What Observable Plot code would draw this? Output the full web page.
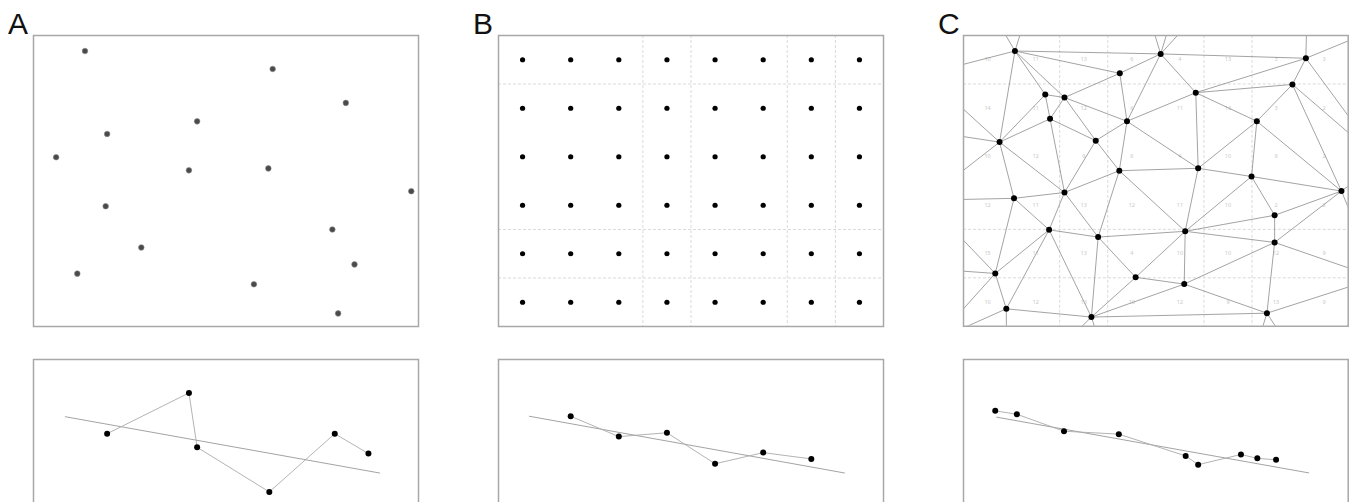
<!DOCTYPE html>
<html>
<head>
<meta charset="utf-8">
<script src="https://cdn.jsdelivr.net/npm/d3@7"></script>
<script src="https://cdn.jsdelivr.net/npm/@observablehq/plot@0.6"></script>
<style>
  html, body { margin: 0; padding: 0; background: #fff; }
  body { width: 1350px; height: 502px; overflow: hidden; position: relative; font-family: "Liberation Sans", Arial, sans-serif; }
  .panel { position: absolute; }
  .lab { position: absolute; font-size: 30px; line-height: 30px; color: #111; }
</style>
</head>
<body>
<script>
// ---------- Data ----------
// Panel A: randomly placed sample locations (grid units, y measured from top)
const aX = [1.07, 4.97, 6.49, 3.40, 1.53, 0.47, 3.23, 4.88, 7.85, 1.50, 6.21, 2.24, 6.67, 0.91, 4.58, 6.33];
const aY = [0.32, 0.69, 1.39, 1.77, 2.03, 2.51, 2.78, 2.74, 3.21, 3.52, 4.00, 4.37, 4.72, 4.91, 5.13, 5.73];

// Panel B: regular grid of sample locations
const bCols = [0.5, 1.5, 2.5, 3.5, 4.5, 5.5, 6.5, 7.5];
const bRows = [0.5, 1.5, 2.5, 3.5, 4.5, 5.5];

// Dashed grid lines (B and C)
const gridXs = [3, 4, 6, 7];
const gridYs = [1, 4, 5];
const gridXsC = [2, 3, 5, 6];

// Panel C: irregular sample locations (triangulated)
const cX = [1.07, 4.10, 7.12, 3.25, 6.84, 1.70, 2.10, 4.83, 1.80, 3.40, 6.10, 0.75, 2.75, 4.88, 3.24,
            5.99, 7.86, 1.05, 2.10, 6.47, 1.78, 2.80, 4.61, 6.47, 0.66, 3.58, 4.59, 0.89, 2.66, 6.31];
const cY = [0.32, 0.38, 0.47, 0.78, 1.01, 1.22, 1.28, 1.18, 1.72, 1.77, 1.77, 2.20, 2.17, 2.74, 2.79,
            2.91, 3.21, 3.36, 3.24, 3.71, 4.01, 4.16, 4.04, 4.27, 4.91, 4.99, 5.13, 5.64, 5.81, 5.73];
// neighbouring locations outside the frame (mesh only)
const ghostX = [-0.8, -0.9, -0.8, -0.9, -0.6, -0.3, 2.6, 5.6, 7.2, 9.5, 8.7, 8.6, 0.9, 4.5, 7.8];
const ghostY = [ 0.8,  1.95, 3.4,  4.8,  6.3, -2.0, -4.5, -4.5, -3.0, -0.5, 2.6, 5.0, 7.5, 11.5, 8.0];
// tiny cell labels of panel C (8 columns x 6 rows)
const cellLabels = [
  "10", "11", "13", "6", "4", "13", "3", "3",
  "14", "11", "12", "6", "11", "13", "3", "2",
  "10", "12", "9", "6", "4", "10", "9", "2",
  "12", "11", "13", "12", "11", "10", "2", "2",
  "15", "11", "13", "4", "10", "10", "12", "9",
  "10", "12", "13", "10", "12", "9", "13", "9"
];

// Bottom panels: sampled values along x, and fitted trend line end points
const aBotX = [1.53, 3.23, 3.40, 4.90, 6.26, 6.96];
const aBotV = [2.47, 3.31, 2.19, 1.27, 2.47, 2.06];
const aTrendX = [0.66, 7.19];
const aTrendV = [2.82, 1.66];

const bBotX = [1.5, 2.5, 3.5, 4.5, 5.5, 6.5];
const bBotV = [2.83, 2.41, 2.49, 1.85, 2.08, 1.95];
const bTrendX = [0.64, 7.19];
const bTrendV = [2.83, 1.66];

const cBotX = [0.66, 1.11, 2.09, 3.23, 4.62, 4.88, 5.77, 6.11, 6.50];
const cBotV = [2.94, 2.87, 2.52, 2.46, 2.01, 1.83, 2.04, 1.96, 1.93];
const cTrendX = [0.69, 7.18];
const cTrendV = [2.81, 1.66];

// ---------- Helpers ----------
const zip = (xs, ys) => xs.map((x, i) => ({x, y: ys[i]}));
const frameColor = "#a8a8a8";

function place(node, left, top) {
  const d = document.createElement("div");
  d.className = "panel";
  d.style.left = left + "px";
  d.style.top = top + "px";
  d.appendChild(node);
  document.body.appendChild(d);
}
function label(txt, left, top) {
  const d = document.createElement("div");
  d.className = "lab";
  d.textContent = txt;
  d.style.left = left + "px";
  d.style.top = top + "px";
  document.body.appendChild(d);
}

function topPlot(marks) {
  return Plot.plot({
    width: 389, height: 295,
    marginLeft: 2, marginRight: 2, marginTop: 2, marginBottom: 2,
    x: {domain: [0, 8], axis: null},
    y: {domain: [0, 6], reverse: true, axis: null},
    style: {background: "transparent"},
    marks
  });
}
function bottomPlot(pts, trend) {
  return Plot.plot({
    width: 389, height: 198,
    marginLeft: 2, marginRight: 2, marginTop: 2, marginBottom: 2,
    x: {domain: [0, 8], axis: null},
    y: {domain: [0, 4], axis: null},
    style: {background: "transparent"},
    marks: [
      Plot.frame({stroke: frameColor, strokeWidth: 1.5}),
      Plot.line(trend, {x: "x", y: "y", stroke: "#999", strokeWidth: 0.9}),
      Plot.line(pts, {x: "x", y: "y", stroke: "#aaa", strokeWidth: 0.9}),
      Plot.dot(pts, {x: "x", y: "y", r: 3, fill: "#000", stroke: "none"})
    ]
  });
}

// ---------- Panel A ----------
const aPts = zip(aX, aY);
place(topPlot([
  Plot.frame({stroke: frameColor, strokeWidth: 1.5}),
  Plot.dot(aPts, {x: "x", y: "y", r: 2.8, fill: "#4a4a4a", stroke: "#888", strokeWidth: 0.6})
]), 30.7, 33);

// ---------- Panel B ----------
const bPts = bRows.flatMap(y => bCols.map(x => ({x, y})));
const dash = {stroke: "#d0d0d0", strokeWidth: 0.8, strokeDasharray: "3,2"};
place(topPlot([
  Plot.ruleX(gridXs, dash),
  Plot.ruleY(gridYs, dash),
  Plot.frame({stroke: frameColor, strokeWidth: 1.5}),
  Plot.dot(bPts, {x: "x", y: "y", r: 2.6, fill: "#000"})
]), 496.3, 33);

// ---------- Panel C ----------
const cPts = zip(cX, cY);
const meshPts = cPts.concat(zip(ghostX, ghostY));
const cellPts = cellLabels.map((t, i) => ({x: bCols[i % 8], y: bRows[Math.floor(i / 8)], t}));
place(topPlot([
  Plot.ruleX(gridXsC, dash),
  Plot.ruleY(gridYs, dash),
  Plot.text(cellPts, {x: "x", y: "y", text: "t", fontSize: 5.5, fill: "#c8c8c8"}),
  Plot.delaunayMesh(meshPts, {x: "x", y: "y", stroke: "#8c8c8c", strokeWidth: 0.8, strokeOpacity: 1, clip: true}),
  Plot.frame({stroke: frameColor, strokeWidth: 1.5}),
  Plot.dot(cPts, {x: "x", y: "y", r: 3, fill: "#000"})
]), 961.3, 33);

// ---------- Bottom panels ----------
place(bottomPlot(zip(aBotX, aBotV), zip(aTrendX, aTrendV)), 30.7, 357);
place(bottomPlot(zip(bBotX, bBotV), zip(bTrendX, bTrendV)), 496.3, 357);
place(bottomPlot(zip(cBotX, cBotV), zip(cTrendX, cTrendV)), 961.3, 357);

// ---------- Panel letters ----------
label("A", 8, 9);
label("B", 473, 9);
label("C", 938, 9);
</script>
</body>
</html>
